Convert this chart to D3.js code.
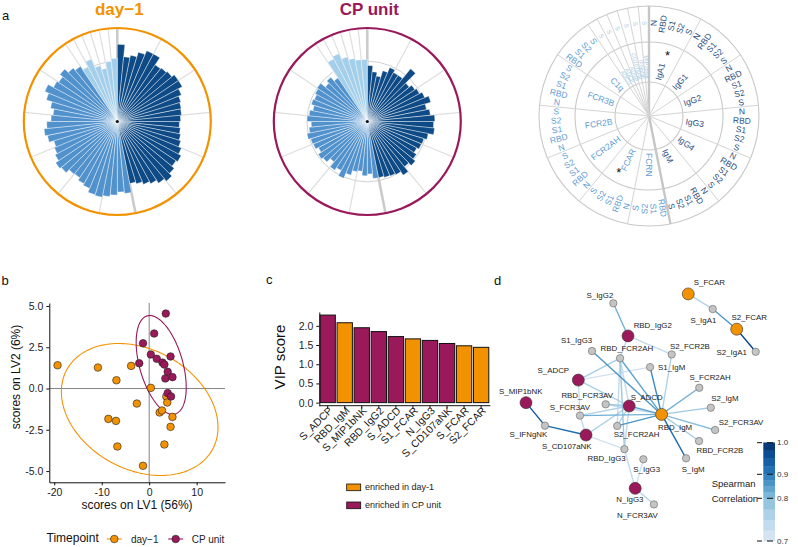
<!DOCTYPE html>
<html>
<head>
<meta charset="utf-8">
<script src="https://cdn.jsdelivr.net/npm/d3@7"></script>
<style>
  body { margin: 0; background: #fff; }
  svg { font-family: "Liberation Sans", Arial, Helvetica, sans-serif; }
</style>
</head>
<body>
<svg id="fig" width="798" height="547"></svg>
<script>
// ---------- panel a: feature layout ----------
const antigens = ['N', 'RBD', 'S1', 'S2', 'S'];
const antigensShort = ['RBD', 'S1', 'S2', 'S'];
const isotypes = ['IgA1', 'IgG1', 'IgG2', 'IgG3', 'IgG4', 'IgM'];
const fcReceptors = ['FCRN', 'FCAR', 'FCR2AH', 'FCR2B', 'FCR3B', 'C1q'];
const shortFeatures = ['FCRN', 'C1q'];
const functions = ['ADCD', 'ADCP', 'ADNP', 'CD107aNK', 'IFNgNK', 'MIP1bNK'];
const significant = ['IgA1', 'FCAR'];

// scaled medians per feature (grey ring = 1)
const day1Isotype = [1.28, 1.08, 1.12, 1.20, 1.27, 1.27, 1.13, 1.15, 1.17, 1.22,
                     1.22, 1.15, 1.10, 1.08, 1.07, 1.05, 1.03, 1.05, 1.07, 1.10,
                     1.15, 1.20, 1.17, 1.22, 1.28, 1.23, 1.17, 1.13, 1.08, 1.05];
const day1Fcr = [1.20, 1.17, 1.22, 1.25, 1.28, 1.27, 1.20, 1.17, 1.12, 1.13,
                 1.20, 1.23, 1.17, 1.13, 1.10, 1.18, 1.22, 1.17, 1.10, 1.07,
                 1.13, 1.23, 1.30, 1.20, 1.17, 1.23, 1.15, 1.10];
const day1Function = [1.03, 1.12, 0.97, 0.90, 1.00, 1.05];
const cpIsotype = [0.93, 0.83, 0.77, 0.88, 0.97, 0.92, 0.92, 1.13, 0.90, 0.95,
                   0.98, 1.03, 1.10, 1.00, 1.05, 1.12, 1.10, 1.12, 1.03, 0.98,
                   0.97, 0.93, 0.98, 1.03, 0.97, 1.07, 1.00, 0.98, 0.97, 0.95];
const cpFcr = [0.95, 0.87, 0.90, 0.83, 0.85, 0.93, 1.02, 0.92, 0.97, 0.87,
               0.95, 0.98, 0.92, 0.97, 0.98, 1.02, 0.97, 0.93, 1.00, 0.97,
               0.92, 0.97, 0.95, 0.98, 1.00, 0.90, 0.95, 0.87];
const cpFunction = [1.18, 1.22, 1.12, 1.07, 1.03, 1.03];

// ---------- panel b: PLS-DA scores ----------
const day1Scores = [[-19.3, 1.41], [-10.8, 1.27], [-6.9, 0.50], [-3.8, 1.37], [0.35, 0.04],
                    [-2.6, -0.91], [-8.6, -1.84], [-7.0, -1.96], [-6.7, -3.51], [-1.3, -4.68],
                    [2.2, -1.45], [2.7, -1.33], [3.6, -0.48], [3.8, -0.85], [4.9, -1.72],
                    [4.5, -2.32], [3.2, -3.39]];
const cpScores = [[3.5, 4.54], [1.05, 3.33], [-1.3, 2.74], [-2.1, 1.53], [0.35, 2.06],
                  [1.6, 1.80], [2.8, 1.57], [3.2, 1.45], [4.5, 1.94], [3.9, 1.01],
                  [3.4, 0.61], [4.9, 0.69], [3.9, -0.28], [4.6, -0.48]];
// 95% ellipses: centre and the two semi-axis vectors, in score units
const day1Ellipse = {center: [-2.0, -1.27], u: [15.35, -2.41], v: [6.05, 3.19]};
const cpEllipse = {center: [2.53, 1.43], u: [2.95, -2.97], v: [4.37, 0.36]};
const xTicksB = [-20, -10, 0, 10];
const yTicksB = [-5, -2.5, 0, 2.5, 5];

// ---------- panel c: VIP scores ----------
const vipFeatures = ['S_ADCP', 'RBD_IgM', 'S_MIP1bNK', 'RBD_IgG2', 'S_ADCD',
                     'S1_FCAR', 'N_IgG3', 'S_CD107aNK', 'S_FCAR', 'S2_FCAR'];
const vipScores = [2.28, 2.08, 1.95, 1.85, 1.72, 1.66, 1.62, 1.54, 1.48, 1.44];
const vipEnriched = ['cp', 'day1', 'cp', 'cp', 'cp', 'day1', 'cp', 'cp', 'day1', 'day1'];
const yTicksC = [0, 0.5, 1, 1.5, 2];

// ---------- panel d: correlation network ----------
const day1Nodes = ['S_FCAR', 'S2_FCAR', 'RBD_IgM'];
const cpNodes = ['RBD_IgG2', 'S_ADCP', 'S_MIP1bNK', 'S_ADCD', 'S_CD107aNK', 'N_IgG3'];
// graph layout coordinates (layout units 0-100): node x, node y, label x, label y
const networkLayout = [
  ['S_FCAR', 70.1, 5.8, 78.9, 1.1], ['S_IgA1', 80.3, 12.1, 76.4, 16.7],
  ['S2_FCAR', 90.3, 20.5, 95.5, 15.5], ['S2_IgA1', 98.2, 29.9, 88.2, 30.3],
  ['S_IgG2', 38.9, 9.7, 33.3, 6.3], ['RBD_IgG2', 45.0, 23.3, 55.3, 18.8],
  ['S1_IgG3', 30.0, 29.6, 23.6, 25.0], ['RBD_FCR2AH', 41.7, 32.6, 44.5, 28.5],
  ['S2_FCR2B', 63.2, 31.0, 70.8, 27.8], ['S1_IgM', 54.2, 36.3, 63.2, 36.4],
  ['S_ADCP', 24.3, 41.7, 13.9, 37.5], ['S_FCR2AH', 74.7, 44.9, 79.2, 40.7],
  ['S_MIP1bNK', 2.5, 51.1, 0.3, 46.3], ['RBD_FCR3AV', 35.7, 51.8, 28.0, 48.0],
  ['S_ADCD', 45.5, 52.5, 52.8, 49.0], ['S2_IgM', 79.5, 53.2, 85.4, 49.3],
  ['S_FCR3AV', 25.0, 56.5, 20.8, 53.0], ['RBD_IgM', 59.0, 56.0, 64.6, 61.3],
  ['S_IFNgNK', 10.4, 60.7, 3.5, 64.3], ['S2_FCR2AH', 40.5, 60.8, 48.6, 64.2],
  ['S2_FCR3AV', 81.3, 62.5, 92.1, 59.5], ['S_CD107aNK', 27.5, 64.6, 19.5, 69.5],
  ['RBD_FCR2B', 74.6, 67.1, 83.3, 71.1], ['RBD_IgG3', 43.5, 70.5, 36.1, 74.2],
  ['S_IgG3', 51.4, 74.7, 52.8, 78.9], ['S_IgM', 69.2, 74.3, 72.2, 78.9],
  ['N_IgG3', 48.0, 86.8, 45.8, 91.4], ['N_FCR3AV', 55.8, 93.5, 48.9, 98.3]
];
const networkEdges = [
  ['S_FCAR', 'S_IgA1', 0.76], ['S_IgA1', 'S2_FCAR', 0.86], ['S2_FCAR', 'S2_IgA1', 0.97],
  ['S_IgG2', 'RBD_IgG2', 0.82], ['RBD_IgG2', 'RBD_FCR2AH', 0.74], ['RBD_IgG2', 'S2_FCR2B', 0.74],
  ['S1_IgG3', 'RBD_IgM', 0.86], ['RBD_FCR2AH', 'RBD_IgM', 0.84], ['RBD_FCR2AH', 'RBD_IgG3', 0.78],
  ['RBD_FCR2AH', 'S_ADCP', 0.77], ['S2_FCR2B', 'RBD_IgM', 0.76], ['S1_IgM', 'RBD_IgM', 0.88],
  ['S1_IgM', 'S_ADCP', 0.72], ['S_FCR2AH', 'RBD_IgM', 0.82], ['S2_IgM', 'RBD_IgM', 0.78],
  ['S2_FCR3AV', 'RBD_IgM', 0.80], ['RBD_FCR2B', 'RBD_IgM', 0.77], ['S_IgM', 'RBD_IgM', 0.92],
  ['S_ADCD', 'RBD_IgM', 0.84], ['S_FCR3AV', 'RBD_IgM', 0.82], ['S2_FCR2AH', 'RBD_IgM', 0.86],
  ['RBD_FCR3AV', 'RBD_IgM', 0.75], ['S_ADCP', 'S_ADCD', 0.77], ['S_MIP1bNK', 'S_IFNgNK', 0.95],
  ['S_IFNgNK', 'S_CD107aNK', 0.92], ['S_CD107aNK', 'S_ADCD', 0.77], ['S_CD107aNK', 'S_FCR3AV', 0.74],
  ['S_FCR3AV', 'S_ADCD', 0.76], ['RBD_FCR3AV', 'S_ADCD', 0.78], ['S_ADCD', 'RBD_IgG3', 0.74],
  ['S_ADCD', 'S2_FCR2AH', 0.76], ['RBD_IgG3', 'N_IgG3', 0.74], ['N_IgG3', 'N_FCR3AV', 0.75],
  ['S_IgG3', 'N_IgG3', 0.72], ['RBD_FCR2AH', 'S2_FCR2AH', 0.74], ['S_ADCP', 'S_FCR3AV', 0.73],
  ['RBD_IgG3', 'S_CD107aNK', 0.72], ['S_ADCD', 'RBD_FCR2AH', 0.74]
];
const corrTicks = [0.7, 0.8, 0.9, 1.0];

// ---------- styles ----------
const ORANGE = '#f39200';
const MAROON = '#99195a';
const barColor = {iso: '#0d4a86', fcr: '#5192cd', fun: '#a3cfea'};
const labelColor = {iso: '#2d4f84', fcr: '#5d9bd3', fun: '#9fcbe6'};

const svg = d3.select('#fig');

// Build the ordered bar list shared by the two roses and the key wheel
const bars = [];
isotypes.forEach(f => antigens.forEach(a => bars.push({cls: 'iso', feature: f, antigen: a})));
fcReceptors.forEach(f => (shortFeatures.includes(f) ? antigensShort : antigens)
  .forEach(a => bars.push({cls: 'fcr', feature: f, antigen: a})));
functions.forEach(f => bars.push({cls: 'fun', feature: f, antigen: 'S'}));
bars.forEach((b, i) => b.id = i);

const angle = d3.scaleBand().domain(bars.map(d => d.id)).range([0, 2 * Math.PI]);
const featureGroups = d3.groups(bars, d => d.feature).map(([feature, items]) => ({
  feature,
  cls: items[0].cls,
  start: angle(items[0].id),
  end: angle(items[items.length - 1].id) + angle.bandwidth(),
  major: feature === isotypes[0] || feature === fcReceptors[0]
}));

/**
 * Circular bar chart of one timepoint
 */
function drawRose(cx, cy, values, ringColor, title) {
  const r = d3.scaleLinear().domain([0, 1.55]).range([0, 93.5]);
  const rMax = r(1.55);
  const g = svg.append('g').attr('transform', `translate(${cx},${cy})`);

  g.append('circle')
      .attr('r', r(1))
      .attr('fill', 'none')
      .attr('stroke', '#d0d0d0')
      .attr('stroke-width', 1);

  g.selectAll('.grid')
      .data(featureGroups)
    .join('line')
      .attr('class', 'grid')
      .attr('x2', d => rMax * Math.sin(d.start))
      .attr('y2', d => -rMax * Math.cos(d.start))
      .attr('stroke', d => d.major ? '#cbcbcb' : '#dedede')
      .attr('stroke-width', d => d.major ? 2.6 : 1.2);

  const arc = d3.arc()
      .innerRadius(0)
      .outerRadius(d => r(d.value))
      .startAngle(d => angle(d.id))
      .endAngle(d => angle(d.id) + angle.bandwidth());

  g.selectAll('.bar')
      .data(bars.map((b, i) => ({...b, value: values[i]})))
    .join('path')
      .attr('class', 'bar')
      .attr('d', arc)
      .attr('fill', d => barColor[d.cls])
      .attr('stroke', '#fff')
      .attr('stroke-width', 0.4);

  g.append('circle')
      .attr('r', rMax)
      .attr('fill', 'none')
      .attr('stroke', ringColor)
      .attr('stroke-width', 2.2);

  g.append('circle').attr('r', 1.6).attr('fill', '#111');

  svg.append('text')
      .attr('x', cx + 2)
      .attr('y', 15)
      .attr('text-anchor', 'middle')
      .attr('font-size', 17)
      .attr('font-weight', 'bold')
      .attr('fill', ringColor)
      .text(title);
}

drawRose(117.3, 121.5, [...day1Isotype, ...day1Fcr, ...day1Function], ORANGE, 'day\u22121');
drawRose(367.3, 121.5, [...cpIsotype, ...cpFcr, ...cpFunction], MAROON, 'CP unit');

// Key wheel with feature and antigen names
(function drawKey() {
  const rings = [34, 74, 110];
  const g = svg.append('g').attr('transform', 'translate(649,116)');

  g.selectAll('.ring')
      .data(rings)
    .join('circle')
      .attr('class', 'ring')
      .attr('r', d => d)
      .attr('fill', 'none')
      .attr('stroke', '#c9c9c9')
      .attr('stroke-width', 1.1);

  g.selectAll('.spoke')
      .data(featureGroups)
    .join('line')
      .attr('class', 'spoke')
      .attr('x2', d => rings[2] * Math.sin(d.start))
      .attr('y2', d => -rings[2] * Math.cos(d.start))
      .attr('stroke', d => d.major ? '#c6c6c6' : '#d4d4d4')
      .attr('stroke-width', d => d.major ? 2.4 : 1);

  const radial = (a, rad) => {
    const deg = a * 180 / Math.PI;
    return deg <= 180
      ? `rotate(${deg - 90}) translate(${rad},0)`
      : `rotate(${deg + 90}) translate(${-rad},0)`;
  };
  const isRight = a => a * 180 / Math.PI <= 180;

  g.selectAll('.feat')
      .data(featureGroups)
    .join('text')
      .attr('class', 'feat')
      .attr('transform', d => radial((d.start + d.end) / 2, 37))
      .attr('text-anchor', d => isRight((d.start + d.end) / 2) ? 'start' : 'end')
      .attr('dominant-baseline', 'central')
      .attr('font-size', d => d.cls === 'fun' ? 5.5 : 8.5)
      .attr('fill', d => labelColor[d.cls])
      .text(d => d.feature);

  g.selectAll('.ag')
      .data(bars)
    .join('text')
      .attr('class', 'ag')
      .attr('transform', d => radial(angle(d.id) + angle.bandwidth() / 2, 93))
      .attr('text-anchor', 'middle')
      .attr('dominant-baseline', 'central')
      .attr('font-size', d => d.cls === 'fun' ? 6 : 8.5)
      .attr('fill', d => labelColor[d.cls])
      .text(d => d.antigen);

  g.selectAll('.star')
      .data(featureGroups.filter(d => significant.includes(d.feature)))
    .join('text')
      .attr('class', 'star')
      .attr('x', d => 64 * Math.sin((d.start + d.end) / 2 + 0.05))
      .attr('y', d => -64 * Math.cos((d.start + d.end) / 2 + 0.05) + 5)
      .attr('text-anchor', 'middle')
      .attr('font-size', 13)
      .attr('fill', '#111')
      .text('*');
})();

// ---------- panel labels ----------
[['a', 2, 20], ['b', 1.5, 285], ['c', 266, 283.5], ['d', 494, 285]].forEach(([t, x, y]) => {
  svg.append('text').attr('x', x).attr('y', y).attr('font-size', 13).attr('fill', '#111').text(t);
});

// ---------- panel b ----------
(function drawScores() {
  const x = d3.scaleLinear().domain([-21.04, 15.97]).range([49.3, 225]);
  const y = d3.scaleLinear().domain([-5.68, 5.18]).range([482.3, 303]);
  const g = svg.append('g');

  g.append('line')
      .attr('x1', x.range()[0]).attr('x2', x.range()[1])
      .attr('y1', y(0)).attr('y2', y(0))
      .attr('stroke', '#666').attr('stroke-width', 0.8);
  g.append('line')
      .attr('x1', x(0)).attr('x2', x(0))
      .attr('y1', y.range()[0]).attr('y2', y.range()[1])
      .attr('stroke', '#666').attr('stroke-width', 0.8);

  const ellipsePath = e => {
    const pts = d3.range(0, 2 * Math.PI + 0.01, Math.PI / 90).map(t => [
      x(e.center[0] + e.u[0] * Math.cos(t) + e.v[0] * Math.sin(t)),
      y(e.center[1] + e.u[1] * Math.cos(t) + e.v[1] * Math.sin(t))
    ]);
    return d3.line()(pts);
  };
  g.append('path').attr('d', ellipsePath(day1Ellipse))
      .attr('fill', 'none').attr('stroke', ORANGE).attr('stroke-width', 1.1);
  g.append('path').attr('d', ellipsePath(cpEllipse))
      .attr('fill', 'none').attr('stroke', MAROON).attr('stroke-width', 1.1);

  const pts = [...day1Scores.map(d => ({d, c: ORANGE})), ...cpScores.map(d => ({d, c: MAROON}))];
  g.selectAll('.pt')
      .data(pts)
    .join('circle')
      .attr('class', 'pt')
      .attr('cx', p => x(p.d[0]))
      .attr('cy', p => y(p.d[1]))
      .attr('r', 3.8)
      .attr('fill', p => p.c)
      .attr('stroke', '#222')
      .attr('stroke-width', 0.6);

  const xAxis = d3.axisBottom(x).tickValues(xTicksB).tickSize(3).tickSizeOuter(0)
      .tickFormat(d => String(d));
  const yAxis = d3.axisLeft(y).tickValues(yTicksB).tickSize(3).tickSizeOuter(0)
      .tickFormat(d => d.toFixed(1));

  const xg = g.append('g').attr('transform', `translate(0,${y.range()[0]})`).call(xAxis);
  const yg = g.append('g').attr('transform', `translate(${x.range()[0]},0)`).call(yAxis);
  [xg, yg].forEach(ax => {
    ax.selectAll('text').attr('font-size', 10.5).attr('fill', '#222');
    ax.selectAll('line, path').attr('stroke', '#111');
    ax.attr('font-family', null);
  });

  g.append('text')
      .attr('x', 137).attr('y', 509)
      .attr('text-anchor', 'middle').attr('font-size', 12).attr('fill', '#111')
      .text('scores on LV1 (56%)');
  g.append('text')
      .attr('transform', 'translate(19.5,377) rotate(-90)')
      .attr('text-anchor', 'middle').attr('font-size', 12).attr('fill', '#111')
      .text('scores on LV2 (6%)');

  // legend
  g.append('text').attr('x', 46.5).attr('y', 542).attr('font-size', 12).attr('fill', '#111').text('Timepoint');
  [[114.3, ORANGE, 'day\u22121', 131], [175.7, MAROON, 'CP unit', 191.7]].forEach(([kx, c, t, tx]) => {
    g.append('line').attr('x1', kx - 7.5).attr('x2', kx + 7.5).attr('y1', 539).attr('y2', 539)
        .attr('stroke', c).attr('stroke-width', 1.1);
    g.append('circle').attr('cx', kx).attr('cy', 539).attr('r', 3.8)
        .attr('fill', c).attr('stroke', '#222').attr('stroke-width', 0.6);
    g.append('text').attr('x', tx).attr('y', 542.5).attr('font-size', 10).attr('fill', '#222').text(t);
  });
})();

// ---------- panel c ----------
(function drawVip() {
  const x = d3.scaleBand().domain(vipFeatures).range([320, 488.8]).paddingInner(0.1).paddingOuter(0);
  const y = d3.scaleLinear().domain([-0.08, 2.36]).range([405.7, 312]);
  const fill = {day1: ORANGE, cp: MAROON};
  const g = svg.append('g');

  g.selectAll('.vip')
      .data(vipFeatures.map((f, i) => ({f, v: vipScores[i], e: vipEnriched[i]})))
    .join('rect')
      .attr('class', 'vip')
      .attr('x', d => x(d.f))
      .attr('width', x.bandwidth())
      .attr('y', d => y(d.v))
      .attr('height', d => y(0) - y(d.v))
      .attr('fill', d => fill[d.e])
      .attr('stroke', '#111')
      .attr('stroke-width', 1);

  const yAxis = d3.axisLeft(y).tickValues(yTicksC).tickSize(3).tickSizeOuter(0)
      .tickFormat(d => d.toFixed(1));
  const yg = g.append('g').attr('transform', 'translate(319.3,0)').call(yAxis);
  yg.selectAll('text').attr('font-size', 10.5).attr('fill', '#222');

  const xAxis = d3.axisBottom(x).tickSize(3).tickSizeOuter(0);
  const xg = g.append('g').attr('transform', `translate(0,${y.range()[0]})`).call(xAxis);
  xg.select('.domain').attr('d', `M319.3,0H${x.range()[1] + 1.5}`);
  xg.selectAll('text')
      .attr('font-size', 10.5).attr('fill', '#222')
      .attr('text-anchor', 'end')
      .attr('transform', 'translate(3,3) rotate(-45)')
      .attr('dy', '0.35em')
      .attr('y', 0).attr('x', 0);
  [xg, yg].forEach(ax => {
    ax.attr('font-family', null);
    ax.selectAll('line, path').attr('stroke', '#111');
  });

  g.append('text')
      .attr('transform', 'translate(285,357) rotate(-90)')
      .attr('text-anchor', 'middle').attr('font-size', 15).attr('fill', '#111')
      .text('VIP score');

  [[484, ORANGE, 'enriched in day-1'], [502, MAROON, 'enriched in CP unit']].forEach(([ly, c, t]) => {
    g.append('rect').attr('x', 346.7).attr('y', ly).attr('width', 14).attr('height', 6.7)
        .attr('fill', c).attr('stroke', '#111').attr('stroke-width', 0.8);
    g.append('text').attr('x', 365).attr('y', ly + 6.3).attr('font-size', 9).attr('fill', '#222').text(t);
  });
})();

// ---------- panel d ----------
(function drawNetwork() {
  const x = d3.scaleLinear().domain([0, 100]).range([520, 760]);
  const y = d3.scaleLinear().domain([0, 100]).range([280, 520]);
  const color = d3.scaleSequential(d3.interpolateBlues).domain([0.65, 1.0]);
  const byId = new Map(networkLayout.map(d => [d[0], d]));
  const g = svg.append('g');

  g.selectAll('.edge')
      .data([...networkEdges].sort((a, b) => a[2] - b[2]))
    .join('line')
      .attr('class', 'edge')
      .attr('x1', e => x(byId.get(e[0])[1])).attr('y1', e => y(byId.get(e[0])[2]))
      .attr('x2', e => x(byId.get(e[1])[1])).attr('y2', e => y(byId.get(e[1])[2]))
      .attr('stroke', e => color(e[2]))
      .attr('stroke-width', 1.4);

  const nodeFill = id => day1Nodes.includes(id) ? ORANGE : cpNodes.includes(id) ? MAROON : '#c4c4c4';
  const big = id => day1Nodes.includes(id) || cpNodes.includes(id);

  g.selectAll('.node')
      .data(networkLayout)
    .join('circle')
      .attr('class', 'node')
      .attr('cx', d => x(d[1])).attr('cy', d => y(d[2]))
      .attr('r', d => big(d[0]) ? 6 : 3.7)
      .attr('fill', d => nodeFill(d[0]))
      .attr('stroke', d => big(d[0]) ? '#333' : '#666')
      .attr('stroke-width', 0.6);

  g.selectAll('.nlab')
      .data(networkLayout)
    .join('text')
      .attr('class', 'nlab')
      .attr('x', d => x(d[3])).attr('y', d => y(d[4]))
      .attr('text-anchor', 'middle')
      .attr('dominant-baseline', 'central')
      .attr('font-size', 7.9)
      .attr('fill', '#222')
      .text(d => d[0]);

  // colour bar
  const cb = d3.scaleLinear().domain(corrTicks).range([541, 498.3, 474.3, 442.7]);
  const steps = d3.range(0.7, 1.0, 0.025);
  g.selectAll('.cbar')
      .data(steps)
    .join('rect')
      .attr('class', 'cbar')
      .attr('x', 763.3).attr('width', 11.7)
      .attr('y', d => cb(Math.min(1, d + 0.025)))
      .attr('height', d => cb(d) - cb(Math.min(1, d + 0.025)) + 0.3)
      .attr('fill', d => color(d + 0.0125));
  corrTicks.forEach(t => {
    g.append('line').attr('x1', 757).attr('x2', 762).attr('y1', cb(t)).attr('y2', cb(t))
        .attr('stroke', '#111').attr('stroke-width', 1);
    g.append('line').attr('x1', 767).attr('x2', 773).attr('y1', cb(t)).attr('y2', cb(t))
        .attr('stroke', '#111').attr('stroke-width', 1);
    g.append('text').attr('x', 777).attr('y', cb(t)).attr('dominant-baseline', 'central')
        .attr('font-size', 8).attr('fill', '#333').text(t.toFixed(1));
  });
  g.append('text').attr('x', 711.7).attr('y', 487).attr('font-size', 9.5).attr('fill', '#222').text('Spearman');
  g.append('text').attr('x', 711.7).attr('y', 502).attr('font-size', 9.5).attr('fill', '#222').text('Correlation');
})();
</script>
</body>
</html>
